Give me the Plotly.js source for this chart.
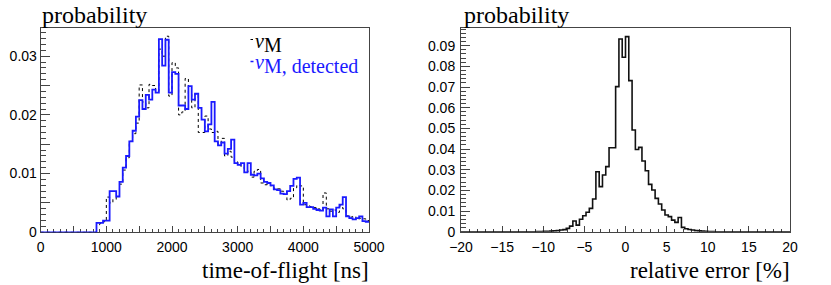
<!DOCTYPE html>
<html>
<head>
<meta charset="utf-8">
<script src="https://cdn.plot.ly/plotly-3.0.1.min.js"></script>
<style>
  html, body { margin: 0; padding: 0; background: #fff; }
  #chart { width: 831px; height: 285px; }
</style>
</head>
<body>
<div id="chart"></div>
<script>
// ---- Data: time-of-flight histograms (50 ns bins from 0 to 5000 ns) ----
const tofRange = [0, 5000];
const tofBinWidth = 50;
const vM = [
  0,0,0,0,0,0,0,0,0,0,0,0,0,0,0,0,0,
  0.0013,0.0015,0.0018,0.0060,0.0050,0.0056,0.0060,0.0082,0.0106,0.0127,
  0.0155,0.0168,0.0186,0.0251,0.0222,0.0212,0.0252,0.0250,0.0240,0.0312,
  0.0300,0.0334,0.0232,0.0289,0.0280,0.0200,0.0205,0.0262,0.0235,0.0212,
  0.0236,0.0170,0.0170,0.0198,0.0176,0.0170,0.0172,0.0150,0.0160,0.0130,
  0.0138,0.0128,0.0120,0.0115,0.0112,0.0108,0.0104,0.0094,0.0104,0.0107,
  0.0084,0.0081,0.0082,0.0079,0.0075,0.0074,0.0070,0.0068,0.0055,0.0058,
  0.0076,0.0080,0.0079,0.0047,0.0045,0.0044,0.0042,0.0040,0.0038,0.0067,
  0.0040,0.0036,0.0038,0.0034,0.0045,0.0040,0.0028,0.0026,0.0027,0.0022,
  0.0024,0.0023,0.0020
];
const vMdetected = [
  0,0,0,0,0,0,0,0,0,0,0,0,0,0,0,0,0,
  0.0016,0.0016,0.0020,0.0020,0.0070,0.0070,0.0061,0.0086,0.0110,0.0130,
  0.0155,0.0173,0.0197,0.0225,0.0210,0.0234,0.0226,0.0243,0.0238,0.0329,
  0.0284,0.0328,0.0238,0.0273,0.0270,0.0216,0.0216,0.0210,0.0249,0.0226,
  0.0236,0.0212,0.0192,0.0172,0.0184,0.0222,0.0155,0.0148,0.0153,0.0134,
  0.0142,0.0158,0.0118,0.0115,0.0118,0.0102,0.0118,0.0098,0.0097,0.0100,
  0.0092,0.0086,0.0084,0.0080,0.0073,0.0072,0.0066,0.0065,0.0070,0.0079,
  0.0091,0.0093,0.0047,0.0050,0.0043,0.0043,0.0040,0.0038,0.0037,0.0042,
  0.0027,0.0039,0.0027,0.0042,0.0047,0.0060,0.0027,0.0024,0.0022,0.0024,
  0.0027,0.0019,0.0018
];

// ---- Data: relative error histogram (0.4 % bins from -20 to 20) ----
const errRange = [-20, 20];
const errBinWidth = 0.4;
const relErr = [
  0,0,0,0,0,0,0,0,0,0,0,0,0,0,0,0,0,0,0,0,0,0,0,
  0.0001,0.0001,0.0002,0.0002,0.0003,0.0004,0.0005,0.0008,0.0010,0.0016,
  0.0027,0.0052,0.0032,0.0060,0.0077,0.0094,0.0113,0.0158,0.0290,0.0218,
  0.0274,0.0315,0.0406,0.0406,0.0702,0.0932,0.0844,0.0944,0.0731,0.0492,
  0.0398,0.0408,0.0342,0.0295,0.0229,0.0202,0.0161,0.0134,0.0105,0.0081,
  0.0073,0.0056,0.0045,0.0069,0.0021,0.0014,0.0011,0.0008,0.0005,0.0004,
  0.0003,0.0002,0.0001,0.0001,
  0,0,0,0,0,0,0,0,0,0,0,0,0,0,0,0,0,0,0,0,0,0,0
];

// tick labels
const tofTickVals = [0,500,1000,1500,2000,2500,3000,3500,4000,4500,5000];
const tofTickText = ['0','','1000','','2000','','3000','','4000','','5000'];
const probTickVals = [0,0.005,0.01,0.015,0.02,0.025,0.03];
const probTickText = ['0','','0.01','','0.02','','0.03'];

// step-histogram helper: left bin edges + closing edge
function stepXY(lo, width, vals) {
  const x = [], y = [];
  for (let i = 0; i < vals.length; i++) { x.push(lo + i * width); y.push(vals[i]); }
  x.push(lo + vals.length * width); y.push(vals[vals.length - 1]);
  return {x, y};
}

const h1 = stepXY(tofRange[0], tofBinWidth, vM);
const h2 = stepXY(tofRange[0], tofBinWidth, vMdetected);
const h3 = stepXY(errRange[0], errBinWidth, relErr);

const W = 831, H = 285;
const frame = '#444';
const blue = '#1a1aff';
const tickFont = {family: 'Liberation Sans, Arial, sans-serif', size: 14, color: '#000'};
const serif = 'Liberation Serif, Times New Roman, serif';

const traces = [
  {x: h1.x, y: h1.y, type: 'scatter', mode: 'lines', line: {shape: 'hv', color: '#000', width: 1, dash: 'dot'}, xaxis: 'x', yaxis: 'y', name: 'vM', hoverinfo: 'skip'},
  {x: h2.x, y: h2.y, type: 'scatter', mode: 'lines', line: {shape: 'hv', color: blue, width: 1.8}, xaxis: 'x', yaxis: 'y', name: 'vM detected', hoverinfo: 'skip'},
  {x: h3.x, y: h3.y, type: 'scatter', mode: 'lines', line: {shape: 'hv', color: '#111', width: 1.6}, xaxis: 'x2', yaxis: 'y2', name: 'rel err', hoverinfo: 'skip'}
];

function axisBase() {
  return {showline: true, linecolor: frame, linewidth: 1, mirror: true, showgrid: false, zeroline: false,
          ticks: 'inside', tickcolor: frame, tickwidth: 1, tickfont: tickFont, layer: 'below traces', fixedrange: true};
}

const layout = {
  width: W, height: H,
  margin: {l: 0, r: 0, t: 0, b: 0},
  paper_bgcolor: '#fff', plot_bgcolor: '#fff',
  showlegend: false,
  xaxis: Object.assign(axisBase(), {
    domain: [40.67 / W, 369 / W], range: tofRange, anchor: 'y',
    tickmode: 'array', tickvals: tofTickVals, ticktext: tofTickText, ticklen: 6, ticklabelstandoff: 2,
    minor: {tickmode: 'linear', tick0: 0, dtick: 100, ticklen: 3, ticks: 'inside', tickcolor: frame}
  }),
  yaxis: Object.assign(axisBase(), {
    domain: [(H - 232.3) / H, (H - 28) / H], range: [0, 0.0348], anchor: 'x',
    tickmode: 'array', tickvals: probTickVals, ticktext: probTickText, ticklen: 9,
    minor: {tickmode: 'linear', tick0: 0, dtick: 0.001, ticklen: 5, ticks: 'inside', tickcolor: frame}
  }),
  xaxis2: Object.assign(axisBase(), {
    domain: [461 / W, 790 / W], range: errRange, anchor: 'y2',
    tickmode: 'linear', tick0: -20, dtick: 5, ticklen: 6, ticklabelstandoff: 2,
    minor: {tickmode: 'linear', tick0: -20, dtick: 1, ticklen: 3, ticks: 'inside', tickcolor: frame}
  }),
  yaxis2: Object.assign(axisBase(), {
    domain: [(H - 231.7) / H, (H - 27.7) / H], range: [0, 0.0987], anchor: 'x2',
    tickmode: 'linear', tick0: 0, dtick: 0.01, ticklen: 9, ticklabelstandoff: 2,
    minor: {tickmode: 'linear', tick0: 0, dtick: 0.002, ticklen: 5, ticks: 'inside', tickcolor: frame}
  }),
  annotations: [
    {text: 'probability', xref: 'paper', yref: 'paper', x: 40 / W, y: 1, xanchor: 'left', yanchor: 'top', showarrow: false, font: {family: serif, size: 24, color: '#000'}},
    {text: 'time-of-flight [ns]', xref: 'paper', yref: 'paper', x: 371 / W, y: 0, xanchor: 'right', yanchor: 'bottom', showarrow: false, font: {family: serif, size: 23, color: '#000'}},
    {text: 'probability', xref: 'paper', yref: 'paper', x: 462 / W, y: 1, xanchor: 'left', yanchor: 'top', showarrow: false, font: {family: serif, size: 24, color: '#000'}},
    {text: 'relative error [%]', xref: 'paper', yref: 'paper', x: 792 / W, y: 0, xanchor: 'right', yanchor: 'bottom', showarrow: false, font: {family: serif, size: 23, color: '#000'}},
    {text: '<i>v</i><sub><span style="font-size:20px">M</span></sub>', xref: 'paper', yref: 'paper', x: 253 / W, y: 1 - 43 / H, xanchor: 'left', yanchor: 'middle', showarrow: false, font: {family: serif, size: 20, color: '#000'}},
    {text: '<i>v</i><sub><span style="font-size:20px">M, detected</span></sub>', xref: 'paper', yref: 'paper', x: 253 / W, y: 1 - 64 / H, xanchor: 'left', yanchor: 'middle', showarrow: false, font: {family: serif, size: 20, color: blue}}
  ],
  shapes: [
    {type: 'line', xref: 'paper', yref: 'paper', x0: 250.5 / W, x1: 253 / W, y0: 1 - 39.5 / H, y1: 1 - 39.5 / H, line: {color: '#000', width: 1, dash: 'dot'}},
    {type: 'line', xref: 'paper', yref: 'paper', x0: 250.5 / W, x1: 253.5 / W, y0: 1 - 61.5 / H, y1: 1 - 61.5 / H, line: {color: blue, width: 1.5}}
  ]
};

Plotly.newPlot('chart', traces, layout, {staticPlot: true, displayModeBar: false});
</script>
</body>
</html>
